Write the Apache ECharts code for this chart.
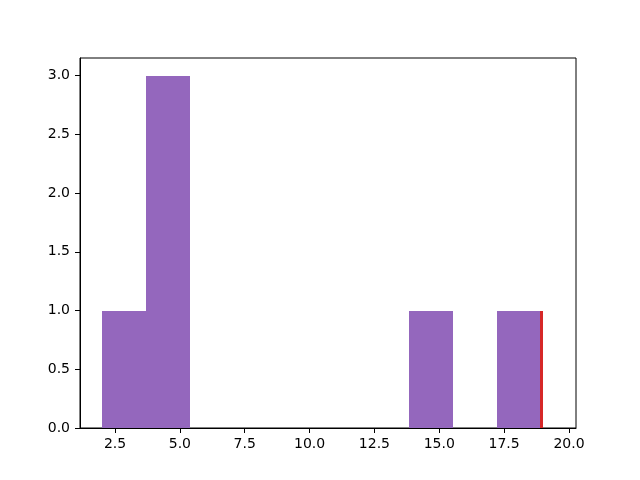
<!DOCTYPE html>
<html>
<head>
<meta charset="utf-8">
<script src="https://cdn.jsdelivr.net/npm/echarts@6/dist/echarts.min.js"></script>
<style>
  html, body { margin: 0; padding: 0; background: #fff; }
  #chart { width: 640px; height: 480px; }
</style>
</head>
<body>
<div id="chart"></div>
<script>
// histogram bins (left edge, right edge, count)
var purpleStart = [2.0, 3.69, 13.83, 17.21];
var purpleEnd   = [3.69, 5.38, 15.52, 18.9];
var purpleCount = [1, 3, 1, 1];

// red histogram, only its last sliver sticks out from under the purple
var redStart = [18.9];
var redEnd   = [18.98];
var redCount = [1];

var xTicks = [2.5, 5.0, 7.5, 10.0, 12.5, 15.0, 17.5, 20.0];
var yTicks = [0.0, 0.5, 1.0, 1.5, 2.0, 2.5, 3.0];

function toData(s, e, c) {
    return s.map(function (v, i) { return [v, e[i], c[i]]; });
}

function renderBin(params, api) {
    var p0 = api.coord([api.value(0), api.value(2)]);
    var p1 = api.coord([api.value(1), 0]);
    var x0 = Math.round(p0[0]), x1 = Math.round(p1[0]);
    var y0 = Math.round(p0[1]), y1 = Math.round(p1[1]);
    return {
        type: 'rect',
        shape: { x: x0, y: y0, width: Math.max(x1 - x0, 1), height: y1 - y0 },
        style: { fill: api.visual('color'), stroke: null, lineWidth: 0 }
    };
}

var myChart = echarts.init(document.getElementById('chart'));

myChart.setOption({
    animation: false,
    grid: {
        left: 80, right: 64, top: 58, bottom: 52,
        show: true,
        borderColor: '#000',
        borderWidth: 1
    },
    xAxis: {
        type: 'value',
        min: 1.15,
        max: 20.27,
        splitLine: { show: false },
        axisLine: { show: true, onZero: false, lineStyle: { color: '#000', width: 1 } },
        axisTick: { show: true, length: 5, customValues: xTicks, lineStyle: { color: '#000' } },
        axisLabel: {
            customValues: xTicks,
            color: '#000',
            fontSize: 14,
            fontFamily: 'DejaVu Sans',
            margin: 9,
            formatter: function (v) { return v.toFixed(1); }
        }
    },
    yAxis: {
        type: 'value',
        min: 0,
        max: 3.15,
        splitLine: { show: false },
        axisLine: { show: true, lineStyle: { color: '#000', width: 1 } },
        axisTick: { show: true, length: 5, customValues: yTicks, lineStyle: { color: '#000' } },
        axisLabel: {
            customValues: yTicks,
            color: '#000',
            fontSize: 14,
            fontFamily: 'DejaVu Sans',
            margin: 10,
            formatter: function (v) { return v.toFixed(1); }
        }
    },
    series: [
        {
            type: 'custom',
            color: '#d62728',
            renderItem: renderBin,
            encode: { x: [0, 1], y: 2 },
            data: toData(redStart, redEnd, redCount)
        },
        {
            type: 'custom',
            color: '#9467bd',
            renderItem: renderBin,
            encode: { x: [0, 1], y: 2 },
            data: toData(purpleStart, purpleEnd, purpleCount)
        }
    ]
});
</script>
</body>
</html>
